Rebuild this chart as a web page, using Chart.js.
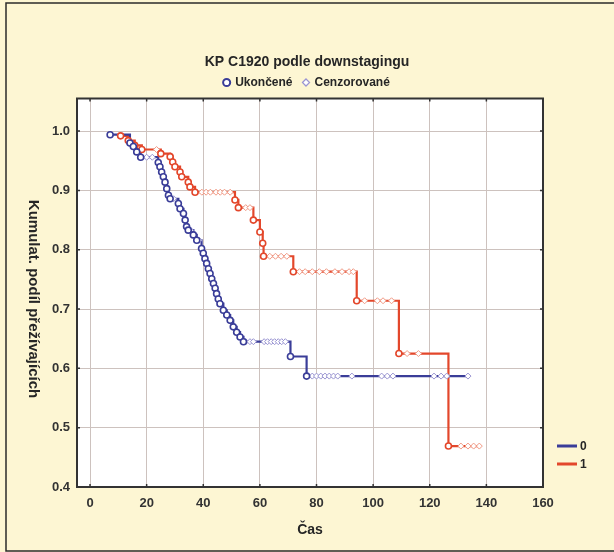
<!DOCTYPE html>
<html>
<head>
<meta charset="utf-8">
<script src="https://cdn.jsdelivr.net/npm/chart.js@4/dist/chart.umd.min.js"></script>
<style>
    body {
        margin: 0;
        background: #fdf6d3;
    }
</style>
</head>
<body>
<canvas id="chart" width="614" height="552"></canvas>
<script>
    // skupina 0 - ukoncene (cas, podil)
    const blue_event_time = [7.1, 14.1, 15.3, 16.5, 17.9, 24.1, 24.7, 25.3, 25.9, 26.5, 27.1, 27.7, 28.3, 31.2, 31.8, 33.0, 33.6, 34.1, 34.7, 36.5, 37.7, 39.4, 40.0, 40.6, 41.2, 41.8, 42.4, 43.0, 43.6, 44.2, 44.7, 45.3, 45.9, 47.1, 48.3, 49.5, 50.6, 51.8, 53.0, 54.2, 70.8, 76.5]
    const blue_event_surv = [0.994, 0.980, 0.974, 0.965, 0.956, 0.947, 0.940, 0.931, 0.923, 0.914, 0.903, 0.892, 0.886, 0.878, 0.869, 0.861, 0.850, 0.839, 0.833, 0.825, 0.816, 0.802, 0.794, 0.785, 0.777, 0.768, 0.760, 0.751, 0.743, 0.735, 0.726, 0.717, 0.709, 0.698, 0.690, 0.681, 0.670, 0.661, 0.653, 0.645, 0.620, 0.587]
    // skupina 0 - cenzorovane
    const blue_cens_time = [20, 22, 29.5, 35.5, 38.5, 55, 56.5, 57.7, 61.5, 62.7, 64, 65.2, 66.5, 67.7, 69, 78.5, 80, 81.5, 83, 84.5, 86, 87.5, 92.5, 103, 105, 107, 121.5, 124, 126, 133.5]
    const blue_cens_surv = [0.956, 0.956, 0.886, 0.833, 0.816, 0.645, 0.645, 0.645, 0.645, 0.645, 0.645, 0.645, 0.645, 0.645, 0.645, 0.587, 0.587, 0.587, 0.587, 0.587, 0.587, 0.587, 0.587, 0.587, 0.587, 0.587, 0.587, 0.587, 0.587, 0.587]

    // skupina 1 - ukoncene
    const red_event_time = [10.8, 13.5, 15.8, 18.3, 25.0, 28.3, 29.2, 30.0, 31.8, 32.4, 34.7, 35.3, 37.1, 51.2, 52.4, 57.7, 60.0, 61.0, 61.3, 71.8, 94.2, 109.1, 126.6]
    const red_event_surv = [0.992, 0.984, 0.976, 0.969, 0.962, 0.957, 0.948, 0.940, 0.931, 0.923, 0.914, 0.906, 0.897, 0.884, 0.871, 0.850, 0.830, 0.811, 0.789, 0.763, 0.714, 0.625, 0.469]
    // skupina 1 - cenzorovane
    const red_cens_time = [23.5, 39.5, 41, 42.5, 44.5, 46, 47.5, 49.5, 55, 56.5, 63.5, 65.5, 67.5, 69.5, 74, 76, 78.5, 81, 83.5, 86.5, 89, 91.5, 93, 97, 101.5, 103.5, 106.5, 112, 116, 131, 133.5, 135.5, 137.5]
    const red_cens_surv = [0.969, 0.897, 0.897, 0.897, 0.897, 0.897, 0.897, 0.897, 0.871, 0.871, 0.789, 0.789, 0.789, 0.789, 0.763, 0.763, 0.763, 0.763, 0.763, 0.763, 0.763, 0.763, 0.763, 0.714, 0.714, 0.714, 0.714, 0.625, 0.625, 0.469, 0.469, 0.469, 0.469]

    const group_labels = ["0", "1"]
    const marker_labels = ["Ukončené", "Cenzorované"]
    const x_ticks = [0, 20, 40, 60, 80, 100, 120, 140, 160]
    const y_ticks = [0.4, 0.5, 0.6, 0.7, 0.8, 0.9, 1.0]

    const BLUE = "#3a3d98"
    const RED = "#e3472b"
    const BLUE_LIGHT = "#9a95d2"
    const RED_LIGHT = "#f19a85"
    const TEXT = "#262626"
    const FONT = "'Liberation Sans', Arial, sans-serif"

    const toPoints = (xs, ys) => xs.map((x, i) => ({x: x, y: ys[i]}))
    const stepLine = (xs, ys, cx, cy) => toPoints(xs, ys).concat([{x: cx[cx.length - 1], y: cy[cy.length - 1]}])

    const eventSet = (label, xs, ys, color) => ({
        label: label,
        data: toPoints(xs, ys),
        pointStyle: "circle",
        pointRadius: 3,
        borderWidth: 1.6,
        borderColor: color,
        backgroundColor: "#ffffff",
        order: 0
    })
    const censSet = (label, xs, ys, color) => ({
        label: label,
        data: toPoints(xs, ys),
        pointStyle: "rectRot",
        pointRadius: 3,
        borderWidth: 1,
        borderColor: color,
        backgroundColor: "#ffffff",
        order: 0
    })
    const lineSet = (label, data, color) => ({
        label: label,
        data: data,
        showLine: true,
        stepped: "before",
        pointRadius: 0,
        borderWidth: 2.2,
        borderColor: color,
        order: 1
    })

    const x_tick_values = new Set(x_ticks)
    const y_tick_values = new Set(y_ticks.map(v => v.toFixed(1)))

    const decor = {
        id: "decor",
        beforeDraw(chart) {
            const {ctx, chartArea: a} = chart
            ctx.save()
            ctx.fillStyle = "#fdf6d3"
            ctx.fillRect(0, 0, chart.width, chart.height)
            ctx.fillStyle = "#ffffff"
            ctx.fillRect(a.left, a.top, a.right - a.left, a.bottom - a.top)
            ctx.restore()
        },
        afterDraw(chart) {
            const {ctx, chartArea: a} = chart
            const xs = chart.scales.x
            const ys = chart.scales.y
            ctx.save()
            // ramecek obrazku
            ctx.strokeStyle = "#2b2b2b"
            ctx.lineWidth = 1.5
            ctx.beginPath()
            ctx.moveTo(614, 3)
            ctx.lineTo(6, 3)
            ctx.lineTo(6, 551)
            ctx.lineTo(614, 551)
            ctx.stroke()
            // ramecek grafu
            ctx.lineWidth = 2
            ctx.strokeStyle = "#333333"
            ctx.strokeRect(a.left, a.top, a.right - a.left, a.bottom - a.top)
            ctx.lineWidth = 1.5
            ctx.beginPath()
            xs.ticks.forEach(t => {
                const px = xs.getPixelForValue(t.value)
                ctx.moveTo(px, a.top); ctx.lineTo(px, a.top + 3)
                ctx.moveTo(px, a.bottom); ctx.lineTo(px, a.bottom - 3)
            })
            ys.ticks.forEach(t => {
                const py = ys.getPixelForValue(t.value)
                ctx.moveTo(a.left, py); ctx.lineTo(a.left + 3, py)
                ctx.moveTo(a.right, py); ctx.lineTo(a.right - 3, py)
            })
            ctx.stroke()
            // popisek osy y
            ctx.fillStyle = TEXT
            ctx.font = "bold 15px " + FONT
            ctx.textAlign = "center"
            ctx.textBaseline = "middle"
            ctx.translate(33, 299)
            ctx.rotate(Math.PI / 2)
            ctx.fillText("Kumulat. podíl přežívajících", 0, 0)
            ctx.restore()
            // legenda skupin
            ctx.save()
            const colors = [BLUE, RED]
            ctx.font = "bold 12px " + FONT
            ctx.textBaseline = "middle"
            ctx.fillStyle = TEXT
            group_labels.forEach((g, i) => {
                const y = 446 + i * 18
                ctx.strokeStyle = colors[i]
                ctx.lineWidth = 3
                ctx.beginPath()
                ctx.moveTo(557, y)
                ctx.lineTo(577, y)
                ctx.stroke()
                ctx.fillText(g, 580, y + 1)
            })
            ctx.restore()
        }
    }

    new Chart(document.getElementById("chart"), {
        type: "scatter",
        data: {
            datasets: [
                eventSet("0 ukončené", blue_event_time, blue_event_surv, BLUE),
                censSet("0 cenzorované", blue_cens_time, blue_cens_surv, BLUE_LIGHT),
                eventSet("1 ukončené", red_event_time, red_event_surv, RED),
                censSet("1 cenzorované", red_cens_time, red_cens_surv, RED_LIGHT),
                lineSet("0", stepLine(blue_event_time, blue_event_surv, blue_cens_time, blue_cens_surv), BLUE),
                lineSet("1", stepLine(red_event_time, red_event_surv, red_cens_time, red_cens_surv), RED)
            ]
        },
        options: {
            responsive: false,
            animation: false,
            events: [],
            layout: {padding: 0},
            plugins: {
                tooltip: {enabled: false},
                title: {
                    display: true,
                    text: "KP C1920 podle downstagingu",
                    color: TEXT,
                    font: {family: FONT, size: 14, weight: "bold", lineHeight: 0.5},
                    padding: {top: 58.5, bottom: 0}
                },
                legend: {
                    display: true,
                    position: "top",
                    onClick: null,
                    labels: {
                        color: TEXT,
                        font: {family: FONT, size: 12, weight: "bold"},
                        usePointStyle: true,
                        boxWidth: 5,
                        boxHeight: 5,
                        padding: 11,
                        generateLabels: () => [
                            {text: marker_labels[0], pointStyle: "circle", fillStyle: "#ffffff", strokeStyle: BLUE, lineWidth: 2, fontColor: TEXT, hidden: false},
                            {text: marker_labels[1], pointStyle: "rectRot", fillStyle: "#ffffff", strokeStyle: BLUE_LIGHT, lineWidth: 1.2, fontColor: TEXT, hidden: false}
                        ]
                    }
                }
            },
            scales: {
                x: {
                    type: "linear",
                    min: -4.6,
                    max: 160,
                    afterFit: (s) => { s.height = 65 },
                    grid: {color: "#cdc2be", drawTicks: false},
                    border: {display: false},
                    ticks: {
                        stepSize: 20,
                        includeBounds: false,
                        padding: 9,
                        color: "#333333",
                        font: {family: FONT, size: 13, weight: "bold"},
                        callback: (v) => x_tick_values.has(v) ? String(v) : null
                    },
                    title: {
                        display: true,
                        text: "Čas",
                        color: TEXT,
                        font: {family: FONT, size: 14, weight: "bold"},
                        padding: {top: 0, bottom: 13.6}
                    }
                },
                y: {
                    type: "linear",
                    min: 0.4,
                    max: 1.055,
                    afterFit: (s) => { s.width = 77 },
                    grid: {color: "#cdc2be", drawTicks: false},
                    border: {display: false},
                    ticks: {
                        stepSize: 0.1,
                        includeBounds: false,
                        padding: 7,
                        color: "#333333",
                        font: {family: FONT, size: 13, weight: "bold"},
                        callback: (v) => y_tick_values.has(Number(v).toFixed(1)) ? Number(v).toFixed(1) : null
                    }
                },
                // prazdna osa vpravo - misto pro legendu skupin
                y2: {
                    type: "linear",
                    position: "right",
                    afterFit: (s) => { s.width = 71 },
                    grid: {display: false},
                    border: {display: false},
                    ticks: {display: false}
                }
            }
        },
        plugins: [decor]
    })
</script>
</body>
</html>
